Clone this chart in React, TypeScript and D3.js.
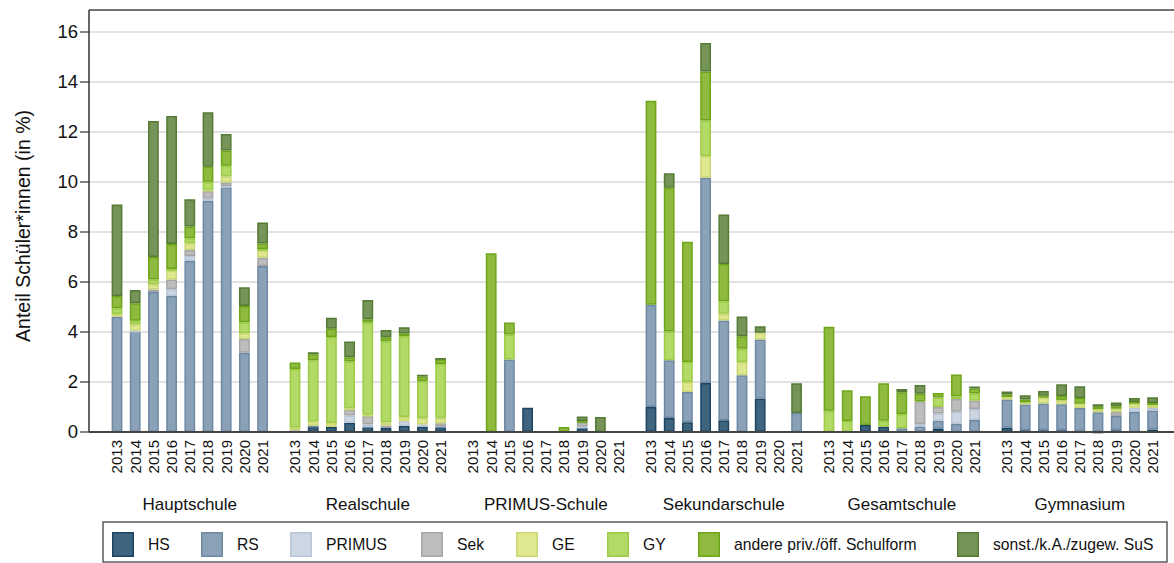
import React from "react";
import * as d3 from "d3";

const schools = ["Hauptschule", "Realschule", "PRIMUS-Schule", "Sekundarschule", "Gesamtschule", "Gymnasium"];
const years = ["2013", "2014", "2015", "2016", "2017", "2018", "2019", "2020", "2021"];
const seriesNames = ["HS", "RS", "PRIMUS", "Sek", "GE", "GY", "andere priv./öff. Schulform", "sonst./k.A./zugew. SuS"];
const yTicks = [0, 2, 4, 6, 8, 10, 12, 14, 16];

// values per bar: [HS, RS, PRIMUS, Sek, GE, GY, andere, sonst]
const hauptschule = [
  [0, 4.61, 0, 0, 0.11, 0.23, 0.49, 3.66],
  [0, 4.02, 0.03, 0, 0.25, 0.15, 0.7, 0.53],
  [0, 5.6, 0, 0.1, 0.2, 0.2, 0.9, 5.44],
  [0, 5.44, 0.27, 0.39, 0.37, 0.05, 1.0, 5.12],
  [0, 6.84, 0.2, 0.24, 0.27, 0.2, 0.47, 1.09],
  [0, 9.24, 0.1, 0.3, 0.05, 0.32, 0.6, 2.18],
  [0, 9.79, 0.05, 0.14, 0.24, 0.43, 0.61, 0.66],
  [0, 3.17, 0, 0.55, 0.23, 0.44, 0.65, 0.75],
  [0, 6.64, 0, 0.33, 0.3, 0.05, 0.22, 0.84],
];
const realschule = [
  [0, 0, 0.04, 0.03, 0.1, 2.35, 0.26, 0],
  [0.2, 0.05, 0, 0, 0.17, 2.45, 0.24, 0.08],
  [0.2, 0, 0, 0, 0.16, 3.44, 0.33, 0.44],
  [0.37, 0, 0.29, 0.23, 0.05, 1.88, 0.17, 0.63],
  [0.17, 0.05, 0.09, 0.33, 0.05, 3.69, 0.13, 0.77],
  [0.16, 0, 0, 0.1, 0.13, 3.24, 0.16, 0.29],
  [0.24, 0, 0.19, 0, 0.17, 3.24, 0.1, 0.25],
  [0.2, 0, 0.1, 0, 0.25, 1.48, 0.19, 0.07],
  [0.17, 0.05, 0, 0.13, 0.2, 2.17, 0.19, 0.05],
];
const primus = [
  [0, 0, 0, 0, 0, 0, 0, 0],
  [0, 0, 0, 0, 0, 0, 7.15, 0],
  [0, 2.9, 0, 0, 0, 1.0, 0.48, 0],
  [0.97, 0, 0, 0, 0, 0, 0, 0],
  [0, 0, 0, 0, 0, 0, 0, 0],
  [0, 0, 0, 0, 0, 0, 0.2, 0],
  [0.16, 0, 0.05, 0.18, 0, 0, 0.05, 0.18],
  [0, 0, 0, 0, 0, 0, 0, 0.6],
  [0, 0, 0, 0, 0, 0, 0, 0],
];
const sekundarschule = [
  [1.0, 4.09, 0, 0, 0, 0, 8.16, 0],
  [0.56, 2.31, 0, 0, 0, 1.15, 5.75, 0.58],
  [0.39, 1.21, 0, 0, 0.4, 0.8, 4.81, 0],
  [1.96, 8.21, 0, 0, 0.87, 1.42, 1.96, 1.14],
  [0.47, 3.99, 0, 0, 0.27, 0.5, 1.49, 1.98],
  [0, 2.27, 0, 0, 0.53, 0.53, 0.5, 0.79],
  [1.33, 2.37, 0, 0, 0.27, 0, 0, 0.26],
  [0, 0, 0, 0, 0, 0, 0, 0],
  [0, 0.76, 0, 0, 0, 0, 0, 1.19],
];
const gesamtschule = [
  [0, 0, 0, 0, 0, 0.85, 3.36, 0],
  [0, 0, 0, 0, 0, 0.44, 1.23, 0],
  [0.28, 0, 0, 0, 0, 0, 1.15, 0],
  [0.21, 0, 0, 0, 0, 0.24, 1.5, 0],
  [0, 0.15, 0, 0, 0, 0.57, 0.87, 0.13],
  [0, 0.22, 0.1, 0.9, 0, 0, 0.31, 0.35],
  [0.12, 0.33, 0.29, 0.26, 0, 0.38, 0.18, 0],
  [0, 0.32, 0.49, 0.51, 0, 0.11, 0.87, 0],
  [0, 0.48, 0.44, 0.33, 0, 0.29, 0.2, 0.08],
];
const gymnasium = [
  [0.17, 1.13, 0, 0, 0.1, 0, 0.1, 0.12],
  [0.07, 1.03, 0, 0, 0.08, 0, 0.12, 0.17],
  [0.07, 1.07, 0, 0, 0.23, 0, 0.08, 0.19],
  [0.07, 1.04, 0, 0, 0.16, 0, 0.17, 0.47],
  [0.03, 0.93, 0, 0, 0.17, 0, 0.23, 0.47],
  [0.02, 0.77, 0, 0, 0.12, 0, 0.1, 0.1],
  [0.07, 0.57, 0, 0.16, 0.13, 0, 0.1, 0.15],
  [0, 0.8, 0.17, 0, 0.16, 0, 0.07, 0.16],
  [0.1, 0.76, 0.1, 0, 0.12, 0, 0.08, 0.23],
];
const schoolValues = [hauptschule, realschule, primus, sekundarschule, gesamtschule, gymnasium];

const fills = ["#3e6480", "#8aa1b7", "#cdd7e3", "#bdbdbd", "#dfe78f", "#b3d966", "#8fba3f", "#779458"];
const strokes = ["#1d4561", "#6d89a4", "#b7c5d6", "#a6a6a6", "#cad874", "#9ccb45", "#6ea61a", "#557b35"];

const W = 1174;
const H = 563;
const FONT = "'Liberation Sans', Arial, sans-serif";
const plot = { left: 89, right: 1174, top: 10, bottom: 432 };
const legendX = [112, 201, 290, 421, 516, 607, 698, 957];

export default function App() {
  const y = d3.scaleLinear().domain([0, 16.88]).range([plot.bottom, plot.top]);
  const xGroup = d3.scaleBand().domain(schools).range([100.8, 1168.8]).padding(0);
  const xYear = d3
    .scaleBand()
    .domain(years)
    .range([0, xGroup.bandwidth()])
    .paddingInner(0.407)
    .paddingOuter(0.594);

  const rows = schools.flatMap((s, si) =>
    years.map((yr, yi) => {
      const o: any = { school: s, year: yr };
      seriesNames.forEach((n, k) => (o[n] = schoolValues[si][yi][k]));
      return o;
    })
  );
  const stacked = d3.stack().keys(seriesNames)(rows as any);
  const bw = xYear.bandwidth();

  return (
    <svg width={W} height={H} style={{ position: "absolute", left: 0, top: 0, background: "#fff" }} fontFamily={FONT}>
      {/* grid */}
      {yTicks.filter((t) => t > 0).map((t) => (
        <line key={"g" + t} x1={plot.left} x2={plot.right} y1={y(t)} y2={y(t)} stroke="#e2e2e2" strokeWidth={2} />
      ))}
      {/* bars */}
      {stacked.map((layer, k) => (
        <g key={"s" + k}>
          {layer.map((d: any, i: number) => {
            const r = rows[i];
            const h = y(d[0]) - y(d[1]);
            if (h <= 0.01) return null;
            const x = (xGroup(r.school) as number) + (xYear(r.year) as number);
            return (
              <rect
                key={i}
                x={x + 0.75}
                y={y(d[1]) + 0.75}
                width={bw - 1.5}
                height={Math.max(h - 1.5, 0.3)}
                fill={fills[k]}
                stroke={strokes[k]}
                strokeWidth={1.5}
              />
            );
          })}
        </g>
      ))}
      {/* axes */}
      <line x1={plot.left} x2={plot.right} y1={plot.top} y2={plot.top} stroke="#444" strokeWidth={1.5} />
      <line x1={plot.left} x2={plot.left} y1={plot.top} y2={plot.bottom} stroke="#333" strokeWidth={1.5} />
      <line x1={plot.left} x2={plot.right} y1={plot.bottom} y2={plot.bottom} stroke="#444" strokeWidth={2} />
      {yTicks.map((t) => (
        <g key={"t" + t}>
          <line x1={plot.left - 9} x2={plot.left} y1={y(t)} y2={y(t)} stroke="#333" strokeWidth={1.2} />
          <text x={plot.left - 11} y={y(t)} dy="0.35em" textAnchor="end" fontSize={18.5} fill="#111">
            {t}
          </text>
        </g>
      ))}
      <text
        transform={`translate(23, ${(plot.top + plot.bottom) / 2 + 5}) rotate(-90)`}
        textAnchor="middle"
        dy="0.35em"
        fontSize={19.5}
        fill="#111"
      >
        Anteil Schüler*innen (in %)
      </text>
      {/* x labels */}
      {schools.map((s) => (
        <g key={"x" + s}>
          {years.map((yr) => {
            const cx = (xGroup(s) as number) + (xYear(yr) as number) + bw / 2;
            return (
              <text
                key={yr}
                transform={`translate(${cx}, 440) rotate(-90)`}
                textAnchor="end"
                dy="0.36em"
                fontSize={15}
                fill="#111"
              >
                {yr}
              </text>
            );
          })}
          <text x={(xGroup(s) as number) + xGroup.bandwidth() / 2} y={510} textAnchor="middle" fontSize={17} fill="#111">
            {s}
          </text>
        </g>
      ))}
      {/* legend */}
      <rect x={103} y={522} width={1064} height={40} fill="none" stroke="#333" strokeWidth={1.2} />
      {seriesNames.map((n, k) => (
        <g key={"l" + k}>
          <rect x={legendX[k] + 0.75} y={532.75} width={20.5} height={23.5} fill={fills[k]} stroke={strokes[k]} strokeWidth={1.5} />
          <text x={legendX[k] + 36} y={545} dy="0.35em" fontSize={15.7} fill="#111">
            {n}
          </text>
        </g>
      ))}
    </svg>
  );
}
